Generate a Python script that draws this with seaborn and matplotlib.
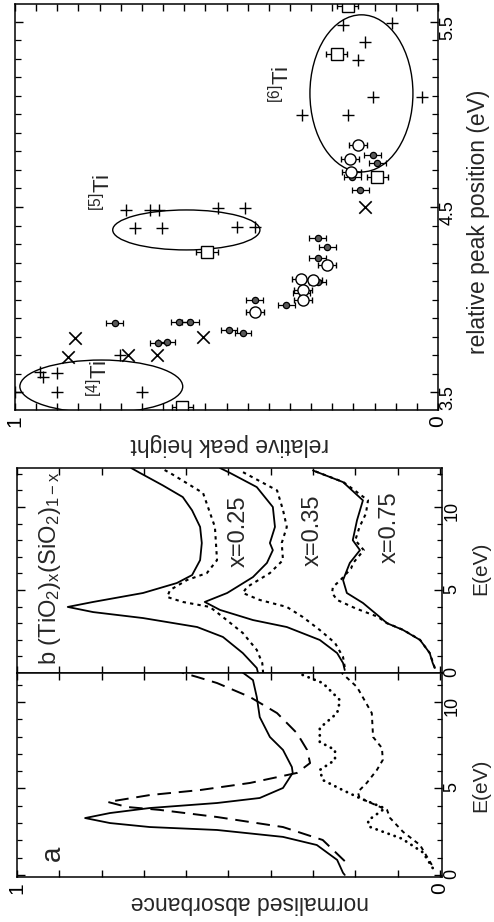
import matplotlib
matplotlib.use("Agg")
import matplotlib.pyplot as plt
from matplotlib.patches import Ellipse
from matplotlib.ticker import MultipleLocator, FixedLocator, FuncFormatter
import seaborn as sns

sns.set_theme(style="ticks")
plt.rcParams.update({
    "font.size": 13,
    "axes.edgecolor": "black",
    "axes.linewidth": 1.1,
    "xtick.color": "black",
    "ytick.color": "black",
    "mathtext.fontset": "custom",
    "mathtext.rm": "Liberation Sans",
    "mathtext.default": "regular",
})
plt.rcParams["font.family"] = ["Liberation Sans", "DejaVu Sans"]

# ---- panel a: normalised absorbance vs E (eV)
a_solid_E = [0.0, 0.12, 0.87, 1.73, 2.2, 2.6, 2.77, 3.0, 3.29, 3.58, 3.87, 4.16, 4.45,
             5.03, 5.9, 6.24, 7.23, 7.98, 9.13, 10.29, 11.27, 11.7]
a_solid_A = [0.225, 0.229, 0.243, 0.291, 0.371, 0.527, 0.686, 0.78, 0.839, 0.78, 0.686,
             0.527, 0.426, 0.371, 0.348, 0.35, 0.371, 0.402, 0.426, 0.433, 0.442, 0.466]
a_dash_E = [0.8, 2.02, 2.77, 3.35, 3.76, 3.93, 4.22, 4.62, 4.91, 5.32, 5.9, 6.47, 7.23,
            8.2, 9.36, 10.29, 11.1, 11.45, 11.7]
a_dash_A = [0.225, 0.277, 0.371, 0.527, 0.662, 0.74, 0.785, 0.686, 0.567, 0.449, 0.338,
            0.307, 0.314, 0.338, 0.385, 0.449, 0.527, 0.574, 0.61]
a_dot_E = [0.4, 1.3, 2.1, 2.5, 2.8, 3.15, 3.5, 3.85, 4.45, 4.91, 5.49, 6.07, 6.65, 7.23,
           7.69, 8.5, 9.36, 10.1, 11.1, 11.7]
a_dot_A = [0.017, 0.04, 0.09, 0.135, 0.168, 0.17, 0.15, 0.13, 0.19, 0.23, 0.277, 0.284,
           0.248, 0.248, 0.284, 0.284, 0.243, 0.236, 0.277, 0.338]
a_sdash_E = [0.58, 1.73, 2.49, 3.3, 3.76, 4.45, 4.8, 5.32, 6.07, 6.65, 7.34, 7.98, 9.36,
             10.87, 11.68]
a_sdash_A = [0.019, 0.047, 0.087, 0.118, 0.125, 0.19, 0.194, 0.173, 0.149, 0.135, 0.137,
             0.158, 0.161, 0.196, 0.232]

# ---- panel b: (TiO2)x(SiO2)1-x, solid and dotted pairs
b25_solid_E = [0.0, 0.3, 1.2, 2.17, 2.77, 3.31, 3.67, 3.98, 4.28, 4.82, 5.42, 5.9, 6.8,
               7.83, 8.8, 9.8, 10.6, 11.3, 12.05, 12.35]
b25_solid_A = [0.43, 0.433, 0.466, 0.513, 0.574, 0.702, 0.82, 0.88, 0.82, 0.702, 0.622,
               0.586, 0.567, 0.563, 0.567, 0.586, 0.608, 0.655, 0.709, 0.73]
b25_dot_E = [0.0, 0.6, 1.39, 2.41, 3.37, 3.98, 4.28, 4.58, 5.0, 5.6, 6.02, 6.8, 8.8,
             10.84, 12.05, 12.35]
b25_dot_A = [0.418, 0.42, 0.433, 0.466, 0.513, 0.544, 0.608, 0.645, 0.638, 0.598, 0.551,
             0.527, 0.532, 0.56, 0.638, 0.66]
b35_solid_E = [0.18, 0.6, 1.2, 1.99, 2.77, 3.19, 3.8, 4.28, 4.82, 5.18, 5.78, 6.63, 7.4,
               7.83, 8.8, 10.0, 11.2, 12.05, 12.35]
b35_solid_A = [0.225, 0.229, 0.243, 0.284, 0.362, 0.442, 0.52, 0.556, 0.503, 0.48, 0.442,
               0.409, 0.395, 0.402, 0.39, 0.395, 0.433, 0.496, 0.52]
b35_dot_E = [0.36, 0.96, 1.81, 2.59, 3.37, 3.98, 4.4, 4.82, 5.18, 6.02, 6.8, 7.83, 8.8,
             9.82, 11.0, 12.2]
b35_dot_A = [0.225, 0.229, 0.248, 0.284, 0.324, 0.362, 0.426, 0.466, 0.456, 0.402, 0.371,
             0.374, 0.362, 0.371, 0.385, 0.473]
b75_solid_E = [0.3, 0.6, 1.2, 1.99, 2.59, 3.0, 3.37, 4.22, 4.82, 5.6, 6.63, 7.4, 8.0, 9.2,
               10.4, 11.5, 12.2]
b75_solid_A = [0.012, 0.017, 0.024, 0.047, 0.087, 0.125, 0.142, 0.182, 0.22, 0.229, 0.213,
               0.189, 0.206, 0.196, 0.182, 0.229, 0.30]
b75_dot_E = [0.3, 1.2, 2.0, 2.6, 3.0, 3.4, 3.9, 4.4, 4.82, 5.18, 5.6, 6.3, 6.63, 7.4, 8.0,
             8.8, 9.6, 10.4, 11.5, 12.2]
b75_dot_A = [0.012, 0.024, 0.047, 0.087, 0.125, 0.148, 0.2, 0.243, 0.255, 0.253, 0.235,
             0.21, 0.205, 0.18, 0.2, 0.19, 0.175, 0.17, 0.228, 0.30]

# ---- panel c: relative peak height vs relative peak position (eV)
plus_h = [1.0, 0.941, 0.934, 0.901, 0.901, 0.700, 0.752,
          0.738, 0.681, 0.660, 0.520, 0.456, 0.716, 0.652, 0.475, 0.433,
          0.225, 0.109, 0.173, 0.189, 0.154, 0.038, 0.213, 0.322]
plus_pp = [3.5, 3.608, 3.581, 3.603, 3.5, 3.5, 3.70,
           4.484, 4.484, 4.484, 4.495, 4.495, 4.386, 4.386, 4.392, 4.392,
           5.484, 5.495, 5.392, 5.295, 5.095, 5.095, 4.997, 4.997]
cross_h = [0.858, 0.875, 0.733, 0.664, 0.556, 0.173]
cross_pp = [3.792, 3.689, 3.700, 3.700, 3.797, 4.500]
fill_h = [0.764, 0.662, 0.641, 0.612, 0.586, 0.494, 0.461, 0.433, 0.359, 0.322, 0.284,
          0.284, 0.284, 0.262, 0.203, 0.184, 0.154, 0.144]
fill_pp = [3.873, 3.765, 3.770, 3.878, 3.878, 3.835, 3.819, 3.997, 3.970, 4.035, 4.095,
           4.224, 4.332, 4.284, 4.662, 4.592, 4.781, 4.738]
open_h = [0.433, 0.324, 0.319, 0.319, 0.296, 0.262, 0.189, 0.208, 0.205]
open_pp = [3.932, 4.111, 4.051, 3.997, 4.105, 4.186, 4.835, 4.759, 4.69]
square_h = [0.605, 0.546, 0.239, 0.144, 0.213]
square_pp = [3.419, 4.257, 5.327, 4.662, 5.586]
ell_h = [0.796, 0.595, 0.181]
ell_pp = [3.53, 4.376, 5.114]
ell_w = [0.385, 0.348, 0.2435]
ell_hgt = [0.286, 0.216, 0.849]
site_labels = [r"$^{[4]}$Ti", r"$^{[5]}$Ti", r"$^{[6]}$Ti"]
site_h = [0.799, 0.794, 0.369]
site_pp = [3.576, 4.58, 5.165]

W, H = 494, 922
fig = plt.figure(figsize=(W / 100, H / 100), dpi=100)


def box(l, t, r, b):
    return [l / W, 1 - b / H, (r - l) / W, (b - t) / H]


ax_c = fig.add_axes(box(15, 4, 438, 410))
ax_b = fig.add_axes(box(17, 468, 442, 673))
ax_a = fig.add_axes(box(17, 673, 442, 877))


def ends_only(v, pos):
    r = round(v)
    return "%d" % r if abs(v - r) < 1e-6 else ""


def trace(ax, a_vals, e_vals, style, lw=1.3, cap="butt"):
    sns.lineplot(x=a_vals, y=e_vals, sort=False, estimator=None, color="black",
                 linewidth=lw, linestyle=style, dash_capstyle=cap, ax=ax, legend=False)


# panel a
trace(ax_a, a_solid_A, a_solid_E, "-")
trace(ax_a, a_dash_A, a_dash_E, (0, (7, 4)), lw=1.4)
trace(ax_a, a_dot_A, a_dot_E, (0, (0.1, 2.2)), lw=2.0, cap="round")
trace(ax_a, a_sdash_A, a_sdash_E, (0, (2.2, 2.2)), lw=1.4)
ax_a.text(0.915, 1.27, "a", rotation=90, ha="center", va="center", fontsize=20)

# panel b
short = (0, (1.6, 2.0))
trace(ax_b, b25_solid_A, b25_solid_E, "-")
trace(ax_b, b25_dot_A, b25_dot_E, short, lw=1.5)
trace(ax_b, b35_solid_A, b35_solid_E, "-")
trace(ax_b, b35_dot_A, b35_dot_E, short, lw=1.5)
trace(ax_b, b75_solid_A, b75_solid_E, "-")
trace(ax_b, b75_dot_A, b75_dot_E, short, lw=1.5)
ax_b.text(0.922, 6.33, r"b (TiO$_2$)$_x$(SiO$_2$)$_{1-x}$", rotation=90,
          ha="center", va="center", fontsize=17)
for lab, av, ev in [("x=0.25", 0.475, 8.55), ("x=0.35", 0.30, 8.61), ("x=0.75", 0.118, 8.8)]:
    ax_b.text(av, ev, lab, rotation=90, ha="center", va="center", fontsize=17)

for ax, elim in [(ax_a, (-0.12, 11.68)), (ax_b, (0.0, 12.35))]:
    ax.set_xlim(1.0, -0.005)
    ax.set_ylim(*elim)
    ax.xaxis.set_major_locator(MultipleLocator(0.1))
    ax.xaxis.set_major_formatter(FuncFormatter(ends_only))
    ax.yaxis.set_major_locator(MultipleLocator(5))
    ax.yaxis.set_minor_locator(MultipleLocator(1))
    ax.yaxis.tick_right()
    ax.tick_params(which="both", direction="in", top=True, bottom=True, left=True,
                   right=True, labelleft=False, labelright=True, labeltop=False,
                   labelrotation=90, pad=1)
    ax.tick_params(axis="x", length=5, width=1.0, labelsize=15, pad=4)
    ax.tick_params(axis="y", which="major", length=6, width=1.0, labelsize=13)
    ax.tick_params(axis="y", which="minor", length=3.5, width=0.9)
    ax.set_xlabel("")
    ax.set_ylabel("E(eV)", fontsize=15)
    ax.yaxis.set_label_position("right")
    ax.yaxis.label.set_verticalalignment("center")
ax_b.tick_params(axis="x", labelbottom=False)
ax_a.yaxis.set_label_coords(1.09, 0.45)
ax_b.yaxis.set_label_coords(1.09, 0.512)
ax_a.set_xlabel("normalised absorbance", rotation=180, va="center", fontsize=16.5)
ax_a.xaxis.set_label_coords(0.548, -0.127)

# panel c
for ch, cp, cw, chh in zip(ell_h, ell_pp, ell_w, ell_hgt):
    ax_c.add_patch(Ellipse((ch, cp), cw, chh, fill=False, ec="black", lw=1.0))
sns.scatterplot(x=plus_h, y=plus_pp, marker="+", s=80, color="black", linewidth=1.0,
                ax=ax_c, legend=False)
sns.scatterplot(x=cross_h, y=cross_pp, marker="x", s=80, color="black", linewidth=1.2,
                ax=ax_c, legend=False)
ax_c.errorbar(fill_h, fill_pp, xerr=0.02, fmt="o", ms=4.5, mfc="0.35", mec="black",
              mew=0.9, ecolor="black", elinewidth=0.9, capsize=2.5, capthick=0.9)
ax_c.errorbar(open_h, open_pp, xerr=0.022, fmt="o", ms=8, mfc="white", mec="black",
              mew=1.0, ecolor="black", elinewidth=0.9, capsize=2.5, capthick=0.9)
ax_c.errorbar(square_h, square_pp, xerr=0.025, fmt="s", ms=8, mfc="white", mec="black",
              mew=1.0, ecolor="black", elinewidth=0.9, capsize=2.5, capthick=0.9)
for lab, sh, sp in zip(site_labels, site_h, site_pp):
    ax_c.text(sh, sp, lab, rotation=90, ha="center", va="center", fontsize=16)

ax_c.set_xlim(1.0, 0.0)
ax_c.set_ylim(3.403, 5.597)
ax_c.xaxis.set_major_locator(MultipleLocator(0.05))
ax_c.xaxis.set_major_formatter(FuncFormatter(ends_only))
ax_c.yaxis.set_major_locator(FixedLocator([3.5, 4.5, 5.5]))
ax_c.yaxis.set_minor_locator(MultipleLocator(0.1))
ax_c.yaxis.tick_right()
ax_c.tick_params(which="both", direction="in", top=True, bottom=True, left=True,
                 right=True, labelleft=False, labelright=True, labeltop=False,
                 labelrotation=90)
ax_c.tick_params(axis="x", length=5, width=1.0, labelsize=15, pad=4)
ax_c.tick_params(axis="y", which="major", length=6, width=1.0, labelsize=13, pad=1)
ax_c.tick_params(axis="y", which="minor", length=4, width=0.9)
ax_c.set_xlabel("relative peak height", rotation=180, va="center", fontsize=16.5)
ax_c.xaxis.set_label_coords(0.508, -0.086)
ax_c.set_ylabel("relative peak position (eV)", fontsize=16.5)
ax_c.yaxis.set_label_position("right")
ax_c.yaxis.label.set_verticalalignment("center")
ax_c.yaxis.set_label_coords(1.096, 0.463)

fig.savefig("out.png", dpi=100)
